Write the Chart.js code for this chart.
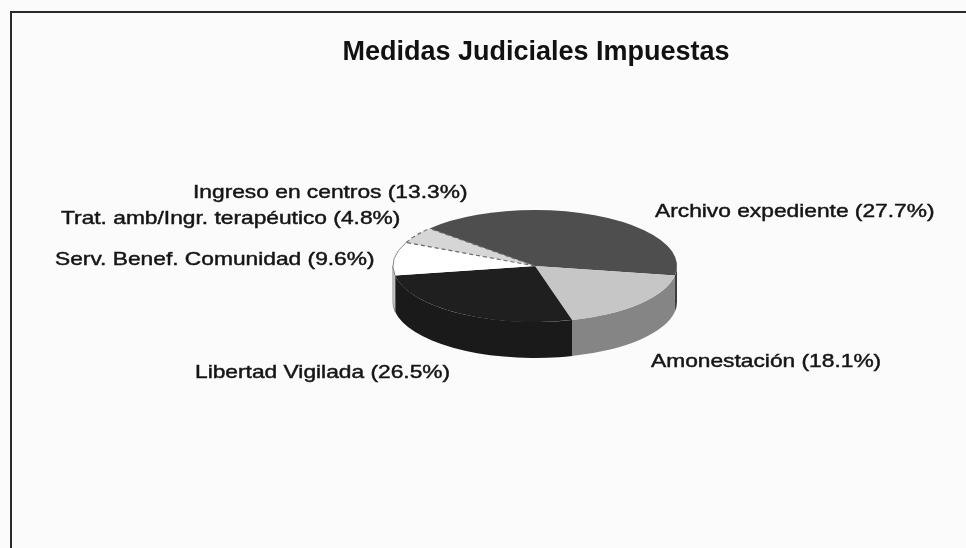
<!DOCTYPE html>
<html><head><meta charset="utf-8">
<script src="https://cdn.jsdelivr.net/npm/chart.js@4/dist/chart.umd.min.js"></script>
<style>html,body{margin:0;padding:0;background:#fbfbfb;}canvas{display:block}</style>
</head><body>
<canvas id="c" width="966" height="548"></canvas>
<script>
// ---- data ----
const categories = ["Archivo expediente","Amonestación","Libertad Vigilada","Serv. Benef. Comunidad","Trat. amb/Ingr. terapéutico","Ingreso en centros"];
const percentages = [27.7, 18.1, 26.5, 9.6, 4.8, 13.3];
const chartTitle = "Medidas Judiciales Impuestas";

// ---- styles ----
const topColors  = ["#4e4e4e","#c6c6c6","#1f1f1f","#ffffff","#d6d6d6","#4e4e4e"];
const sideColors = ["#3c3c3c","#858585","#1a1a1a","#ededed","#a8a8a8","#3a3a3a"];
const labelPos = [[655,217],[651,367],[195,378],[55,265],[61,224],[193,198]];
const PIE = {cx:535, cy:266, rx:142, ry:56, depth:36};
const TEXT_STRETCH = 1.23;

const pie3d = {
  id:'pie3d',
  beforeDraw(chart){
    const ctx = chart.ctx;
    ctx.save();
    ctx.fillStyle = '#fbfbfb';
    ctx.fillRect(0,0,chart.width,chart.height);
    ctx.strokeStyle = '#2a2a2a'; ctx.lineWidth = 2;
    ctx.beginPath(); ctx.moveTo(11,548); ctx.lineTo(11,12); ctx.lineTo(966,12); ctx.stroke();
    ctx.restore();
  },
  beforeDatasetsDraw(chart){
    const ctx = chart.ctx, meta = chart.getDatasetMeta(0);
    const a0 = meta.data[0], r = a0.outerRadius;
    const {cx, cy, rx, ry, depth} = PIE;
    ctx.save();
    meta.data.forEach((arc, i) => {
      const s = arc.startAngle, e = arc.endAngle;
      for (const k of [-2, 0, 2]) {
        const lo = Math.max(s, k*Math.PI), hi = Math.min(e, (k+1)*Math.PI);
        if (hi > lo) {
          ctx.beginPath();
          ctx.ellipse(cx, cy, rx, ry, 0, lo, hi);
          ctx.ellipse(cx, cy+depth, rx, ry, 0, hi, lo, true);
          ctx.closePath();
          ctx.fillStyle = sideColors[i];
          ctx.fill();
          if (i === 3) { ctx.strokeStyle = '#8a8a8a'; ctx.lineWidth = 1; ctx.stroke(); }
        }
      }
    });
    ctx.restore();
    ctx.save();
    ctx.translate(cx, cy);
    ctx.scale(rx / r, ry / r);
    ctx.translate(-a0.x, -a0.y);
  },
  afterDatasetsDraw(chart){
    const ctx = chart.ctx, meta = chart.getDatasetMeta(0);
    ctx.restore();
    const {cx, cy, rx, ry} = PIE;
    const w = meta.data[3];
    ctx.save();
    ctx.strokeStyle = '#8a8a8a'; ctx.lineWidth = 1;
    ctx.beginPath(); ctx.ellipse(cx, cy, rx, ry, 0, w.startAngle, w.endAngle); ctx.stroke();
    const t = meta.data[4];
    ctx.setLineDash([4,3]); ctx.strokeStyle = '#6a6a6a'; ctx.lineWidth = 1.2;
    for (const ang of [t.startAngle, t.endAngle]) {
      ctx.beginPath(); ctx.moveTo(cx, cy);
      ctx.lineTo(cx + rx*Math.cos(ang), cy + ry*Math.sin(ang)); ctx.stroke();
    }
    ctx.beginPath(); ctx.ellipse(cx, cy, rx, ry, 0, t.startAngle, t.endAngle); ctx.stroke();
    ctx.restore();
  },
  afterDraw(chart){
    const ctx = chart.ctx;
    ctx.save();
    ctx.fillStyle = '#111';
    ctx.font = "bold 27px 'Liberation Sans', Arial, sans-serif";
    ctx.textAlign = 'center'; ctx.textBaseline = 'alphabetic';
    ctx.fillText(chartTitle, 536, 60);
    ctx.font = "18.5px 'Liberation Sans', Arial, sans-serif";
    ctx.textAlign = 'left';
    ctx.fillStyle = '#151515';
    ctx.strokeStyle = '#151515';
    ctx.lineWidth = 0.45;
    categories.forEach((c, i) => {
      const txt = c + ' (' + percentages[i].toFixed(1) + '%)';
      ctx.save();
      ctx.translate(labelPos[i][0], labelPos[i][1]);
      ctx.scale(TEXT_STRETCH, 1);
      ctx.fillText(txt, 0, 0);
      ctx.strokeText(txt, 0, 0);
      ctx.restore();
    });
    ctx.restore();
  }
};

new Chart(document.getElementById('c'), {
  type: 'pie',
  data: {
    labels: categories,
    datasets: [{ data: percentages, backgroundColor: topColors, borderWidth: 0 }]
  },
  options: {
    responsive: false,
    animation: false,
    events: [],
    rotation: 0,
    layout: { padding: { top: 100, bottom: 100, left: 300, right: 300 } },
    plugins: { legend: { display: false }, title: { display: false }, tooltip: { enabled: false } }
  },
  plugins: [pie3d]
});
</script>
</body></html>
